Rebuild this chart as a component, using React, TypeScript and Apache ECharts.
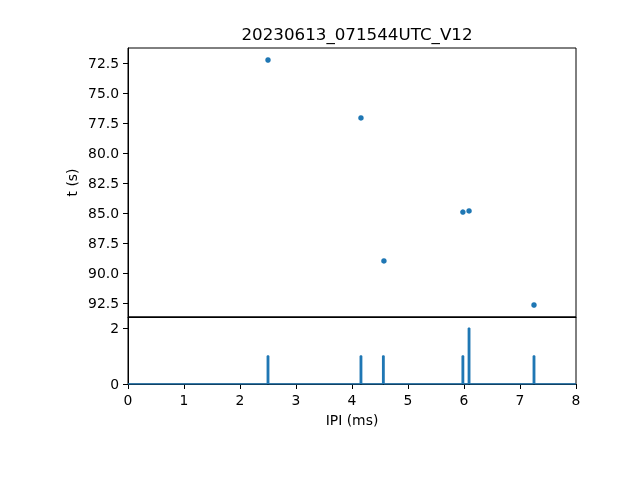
import React, { useEffect, useRef } from "react";
import * as echarts from "echarts";

const titleText = "20230613_071544UTC_V12";
const ipiMs = [2.5, 4.16, 4.57, 5.98, 6.09, 7.25];
const tSec = [72.25, 77.08, 89.0, 84.92, 84.83, 92.67];
const spikeIpi = [2.5, 4.16, 4.56, 5.98, 6.09, 7.25];
const spikeCount = [1, 1, 1, 1, 2, 1];
const tTicks = [72.5, 75.0, 77.5, 80.0, 82.5, 85.0, 87.5, 90.0, 92.5];

const BLUE = "#1f77b4";
const FONT = "DejaVu Sans";

export default function App() {
  const ref = useRef<HTMLDivElement>(null);
  useEffect(() => {
    if (!ref.current) return;
    const chart = echarts.init(ref.current, undefined, { renderer: "svg" });
    const scatterData = ipiMs.map((x, i) => [x, tSec[i]]);
    const w = 0.012;
    const lineData: number[][] = [[0, 0]];
    spikeIpi.forEach((x, i) => {
      lineData.push([x - w, 0], [x - w, spikeCount[i]], [x + w, spikeCount[i]], [x + w, 0]);
    });
    lineData.push([8, 0]);
    const axisLine = { show: true, lineStyle: { color: "#000", width: 1 } };
    const tick = { show: true, inside: false, length: 5, lineStyle: { color: "#000", width: 1 } };
    const lbl = { color: "#000", fontSize: 13.9, fontFamily: FONT, margin: 9 };
    chart.setOption({
      animation: false,
      textStyle: { fontFamily: FONT },
      title: {
        text: titleText,
        left: 352,
        top: 20,
        textAlign: "center",
        textStyle: { color: "#000", fontSize: 16.7, fontWeight: "normal", fontFamily: FONT },
      },
      grid: [
        { left: 128, right: 64, top: 48, height: 269, show: true, borderColor: "#000", borderWidth: 1, backgroundColor: "transparent" },
        { left: 128, right: 64, top: 317, height: 67, show: true, borderColor: "#000", borderWidth: 1, backgroundColor: "transparent" },
      ],
      xAxis: [
        { type: "value", gridIndex: 0, min: 0, max: 8, interval: 1, axisLine, axisTick: { show: false }, axisLabel: { show: false }, splitLine: { show: false } },
        {
          type: "value", gridIndex: 1, min: 0, max: 8, interval: 1, axisLine, axisTick: tick, axisLabel: lbl, splitLine: { show: false },
          name: "IPI (ms)", nameLocation: "middle", nameGap: 29, nameMoveOverlap: false,
          nameTextStyle: { color: "#000", fontSize: 13.9, fontFamily: FONT },
        },
      ],
      yAxis: [
        {
          type: "value", gridIndex: 0, inverse: true, min: 71.25, max: 93.67,
          axisLine,
          axisTick: { ...tick, customValues: tTicks },
          axisLabel: { ...lbl, customValues: tTicks, formatter: (v: number) => v.toFixed(1) },
          splitLine: { show: false },
          name: "t (s)", nameLocation: "middle", nameGap: 49, nameRotate: 90, nameMoveOverlap: false,
          nameTextStyle: { color: "#000", fontSize: 13.9, fontFamily: FONT },
        },
        {
          type: "value", gridIndex: 1, min: 0, max: 2.4, interval: 2,
          axisLine, axisTick: tick, axisLabel: lbl, splitLine: { show: false },
        },
      ],
      series: [
        { type: "scatter", xAxisIndex: 0, yAxisIndex: 0, data: scatterData, symbolSize: 5.5, itemStyle: { color: BLUE, opacity: 1 } },
        { type: "line", xAxisIndex: 1, yAxisIndex: 1, data: lineData, showSymbol: false, symbol: "none", lineStyle: { color: BLUE, width: 1.5 } },
      ],
    });
    return () => chart.dispose();
  }, []);
  return <div ref={ref} style={{ position: "fixed", left: 0, top: 0, width: 640, height: 480 }} />;
}
